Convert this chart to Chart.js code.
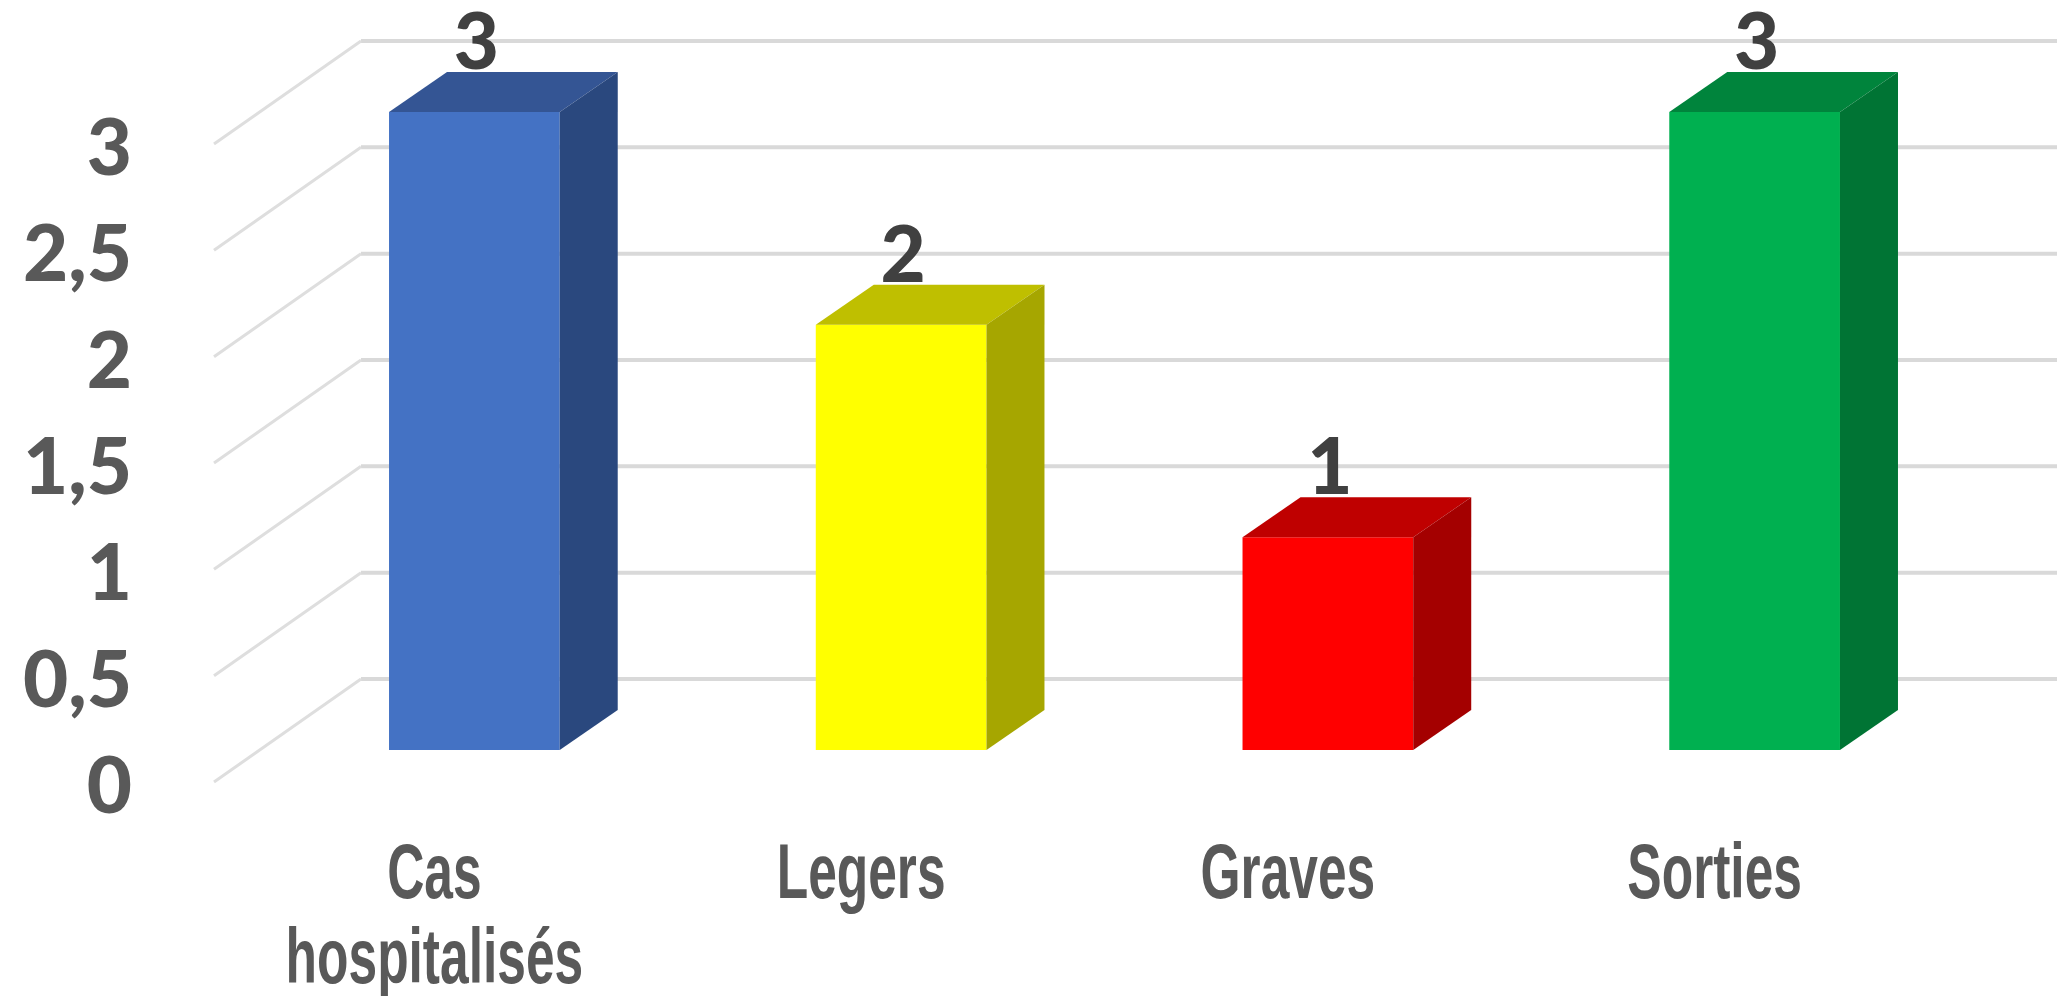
<!DOCTYPE html>
<html>
<head>
<meta charset="utf-8">
<script src="https://cdn.jsdelivr.net/npm/chart.js"></script>
<style>
  html, body { margin: 0; padding: 0; background: #fff; }
  #wrap { width: 2057px; height: 996px; }
</style>
</head>
<body>
<div id="wrap"><canvas id="canvas"></canvas></div>
<script>
// data
const categories = [["Cas", "hospitalisés"], "Legers", "Graves", "Sorties"];
const values = [3, 2, 1, 3];
const yTicks = [0, 0.5, 1, 1.5, 2, 2.5, 3];
const yTickLabels = ["0", "0,5", "1", "1,5", "2", "2,5", "3"];

// colours of the three visible faces of each bar
const frontColors = ["#4472C4", "#FFFF00", "#FF0000", "#00B050"];
const topColors = ["#345594", "#BFBF00", "#BF0000", "#00843C"];
const sideColors = ["#2A487E", "#A6A600", "#A40000", "#007434"];

// oblique offsets of the fake 3d view
const depth = { dx: 58, dy: 40 };  // bar depth
const wall = { dx: 100, dy: 71 };  // back wall behind the bar fronts
const edge = { dx: 47, dy: 32 };   // front edge of the floor

const box3d = {
  id: "box3d",
  beforeDatasetsDraw(chart) {
    const { ctx, chartArea, scales: { y } } = chart;
    ctx.save();
    yTicks.forEach((v) => {
      const py = y.getPixelForValue(v);
      // line on the back wall
      ctx.lineWidth = 4;
      ctx.strokeStyle = "#D9D9D9";
      ctx.beginPath();
      ctx.moveTo(chartArea.left + wall.dx, py - wall.dy);
      ctx.lineTo(chart.width, py - wall.dy);
      ctx.stroke();
      // line on the side wall
      ctx.lineWidth = 3;
      ctx.strokeStyle = "#DEDEDE";
      ctx.beginPath();
      ctx.moveTo(chartArea.left + wall.dx, py - wall.dy);
      ctx.lineTo(chartArea.left - edge.dx, py + edge.dy);
      ctx.stroke();
    });
    ctx.restore();
  },
  afterDatasetsDraw(chart) {
    const { ctx, scales: { x } } = chart;
    const meta = chart.getDatasetMeta(0);
    ctx.save();
    meta.data.forEach((bar, i) => {
      const { x: bx, y, width, base } = bar.getProps(["x", "y", "width", "base"], true);
      const l = bx - width / 2;
      const r = bx + width / 2;
      // top face
      ctx.fillStyle = topColors[i];
      ctx.beginPath();
      ctx.moveTo(l, y);
      ctx.lineTo(l + depth.dx, y - depth.dy);
      ctx.lineTo(r + depth.dx, y - depth.dy);
      ctx.lineTo(r, y);
      ctx.closePath();
      ctx.fill();
      // side face
      ctx.fillStyle = sideColors[i];
      ctx.beginPath();
      ctx.moveTo(r, y);
      ctx.lineTo(r + depth.dx, y - depth.dy);
      ctx.lineTo(r + depth.dx, base - depth.dy);
      ctx.lineTo(r, base);
      ctx.closePath();
      ctx.fill();
      // value label
      ctx.fillStyle = "#404040";
      ctx.font = "900 78px Lato";
      ctx.textAlign = "center";
      ctx.textBaseline = "alphabetic";
      ctx.fillText(String(values[i]), bx + 2, y - depth.dy - 3);
    });

    // category labels, narrow like the original display font
    ctx.fillStyle = "#595959";
    ctx.font = "bold 78px 'Liberation Sans'";
    ctx.textAlign = "center";
    ctx.textBaseline = "alphabetic";
    categories.forEach((c, i) => {
      const lines = Array.isArray(c) ? c : [c];
      const cx = x.getPixelForValue(i) - 40;
      lines.forEach((t, k) => {
        ctx.save();
        ctx.translate(cx, x.top + 148 + k * 85);
        ctx.scale(0.66, 1);
        ctx.fillText(t, 0, 0);
        ctx.restore();
      });
    });
    ctx.restore();
  }
};

new Chart(document.getElementById("canvas"), {
  type: "bar",
  data: {
    labels: categories,
    datasets: [
      {
        data: values,
        backgroundColor: frontColors,
        borderWidth: 0,
        barPercentage: 0.4,
        categoryPercentage: 1,
      },
    ],
  },
  options: {
    responsive: true,
    maintainAspectRatio: false,
    animation: false,
    layout: { padding: { top: 112, right: 89, left: 0, bottom: 0 } },
    plugins: {
      legend: { display: false },
      tooltip: { enabled: false },
    },
    scales: {
      x: {
        grid: { display: false, drawTicks: false },
        border: { display: false },
        ticks: { display: false },
        afterFit(s) { s.height = 246; },
      },
      y: {
        min: 0,
        max: 3,
        grid: { display: false, drawTicks: true, tickLength: 125 },
        border: { display: false },
        afterBuildTicks(s) { s.ticks = yTicks.map((v) => ({ value: v })); },
        ticks: {
          color: "#595959",
          font: { family: "Lato", weight: 900, size: 78 },
          padding: 4,
          labelOffset: 38,
          autoSkip: false,
          callback: (v, i) => yTickLabels[i],
        },
        afterFit(s) { s.width = 261; },
      },
    },
  },
  plugins: [box3d],
});
</script>
</body>
</html>
